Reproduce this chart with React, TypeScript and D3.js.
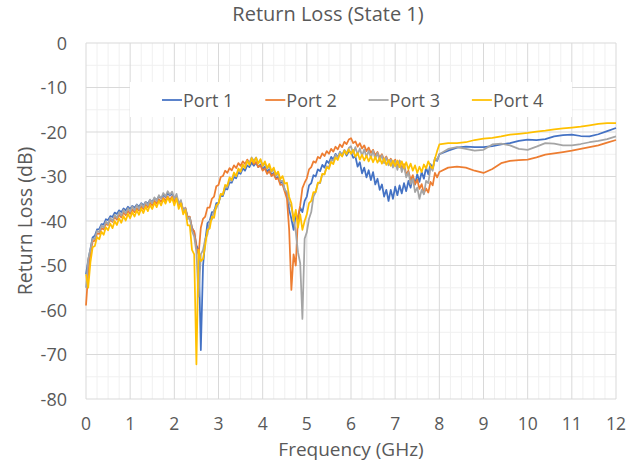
import React, { useEffect, useRef } from 'react';
import * as d3 from 'd3';

// sweep: 0–8 GHz every 0.05 GHz, then 8.2–12 GHz every 0.2 GHz
const FINE_STEP = 0.05;
const COARSE_START = 8.2;
const COARSE_STEP = 0.2;

const port1Fine = [
  -52, -48.8, -46.3, -43.7, -43.3, -41.9, -41.8, -40.7, -40.8, -39.6, -39.8, -38.9, -39.1, -38.1, -38.4, -37.6, -38, -37.2, -37.6, -36.8,
  -37.3, -36.6, -37, -36.3, -36.8, -36, -36.5, -35.7, -36.1, -35.3, -35.7, -34.9, -35.3, -34.5, -34.9, -34.2, -34.6, -33.8, -34.3, -33.9,
  -35, -34.6, -36, -35.8, -37.5, -37.2, -39, -39.2, -41.5, -42.5, -45.5, -46.5, -69, -50, -44.5, -40.5, -40, -38, -38, -36,
  -35.9, -34.3, -34.4, -32.8, -32.9, -31.3, -31.4, -30.1, -30.4, -29.1, -29.4, -28.2, -28.7, -27.5, -27.9, -26.9, -27.6, -26.9, -27.9, -27.3,
  -28.4, -27.8, -28.9, -28.4, -29.6, -29.2, -30.4, -30.1, -31.5, -31.2, -33, -34, -37.5, -39.5, -42, -38.5, -39.5, -37, -38, -35.5,
  -34.5, -32, -31.5, -29.7, -30, -28.4, -28.8, -27.4, -28, -26.5, -27, -25.6, -26.2, -24.9, -25.7, -24.5, -25.3, -24.2, -25.3, -24.4,
  -24.5, -25.8, -25.5, -27.8, -26.8, -29.3, -28, -30.2, -28.6, -30.8, -29, -31.8, -30.5, -33, -31.8, -34.5, -33, -35.5, -33, -35,
  -32.3, -34.2, -32, -33.8, -31.5, -33.3, -31, -32.5, -30, -31.8, -29.5, -31.2, -29, -30.5, -28, -29.5, -27.2, -28.2, -26, -26.5,
  -25,
];
const port1Coarse = [
  -24.2, -23.5, -23.3, -23.4, -23.4, -23.2, -22.8, -22.5, -22, -21.7,
  -21.8, -21.6, -21, -20.7, -20.6, -20.9, -21, -20.5, -19.8, -19.1,
];

const port2Fine = [
  -59, -51.7, -47.3, -44.6, -44.4, -42.8, -42.9, -41.6, -41.9, -40.6, -40.9, -39.7, -40.2, -39.1, -39.7, -38.6, -39.2, -38.1, -38.7, -37.7,
  -38.4, -37.4, -38, -37.1, -37.7, -36.7, -37.3, -36.3, -36.9, -35.9, -36.5, -35.5, -36.1, -35.1, -35.7, -34.8, -35.4, -34.5, -35.2, -34.5,
  -35.7, -34.6, -36.5, -35.6, -37.7, -37, -39.2, -39, -41.7, -42.3, -46, -47.5, -41.5, -39.5, -39, -37, -37, -35, -34.5, -32.2,
  -31.9, -30.1, -29.9, -28.7, -29.2, -28.1, -28.6, -27.5, -28.1, -27, -27.6, -26.6, -27.2, -26.2, -26.9, -26.2, -27.2, -26.7, -27.9, -27.5,
  -28.7, -28.2, -29.4, -28.8, -29.9, -29.4, -30.6, -30.4, -31.9, -31.8, -33.4, -35, -42, -55.5, -47.5, -50, -39, -36.5, -32.6, -31.4,
  -30.4, -28.4, -27.9, -26.6, -26.9, -25.6, -25.9, -24.8, -25.4, -24.3, -24.9, -23.8, -24.4, -23.3, -23.9, -22.8, -23.4, -22.2, -22.7, -21.7,
  -21.4, -22.5, -22.1, -23.3, -22.5, -23.7, -23, -24.3, -23.5, -24.7, -24, -25.3, -24.5, -25.8, -25, -26.3, -25.5, -26.8, -26, -27.2,
  -26.2, -27.8, -26.4, -28.3, -27.2, -29.6, -28.7, -30.8, -29.7, -31.8, -30.7, -32.8, -31.7, -33.8, -32.7, -33.6, -31.2, -32, -29.2, -30.2,
  -29,
];
const port2Coarse = [
  -28, -27.8, -28, -28.7, -29.2, -28.3, -27, -26.5, -26.3, -26.2,
  -25.7, -25.1, -24.8, -24.5, -24.2, -23.8, -23.4, -23, -22.4, -21.8,
];

const port3Fine = [
  -55, -48.6, -46.4, -44, -44, -42.2, -42.5, -41, -41.5, -40.1, -40.7, -39.3, -40, -38.6, -39.3, -38, -38.8, -37.5, -38.3, -37.1,
  -37.9, -36.7, -37.6, -36.4, -37.3, -36.1, -36.9, -35.7, -36.5, -35.2, -36, -34.7, -35.5, -34.2, -35, -33.7, -34.5, -33.3, -34.1, -33.4,
  -35, -33.9, -36.1, -35.3, -37.8, -37.1, -39.6, -39.2, -42.3, -43.5, -47, -57, -47.5, -46.5, -44, -43, -40, -39.7, -37.5, -37.2,
  -36, -34, -34, -32.2, -32.5, -30.7, -31, -29.5, -30, -28.5, -29, -27.5, -28, -26.5, -27, -25.7, -26.5, -25.7, -27, -26.3,
  -27.7, -27, -28.3, -27.7, -29, -28.4, -29.8, -29.4, -31, -31, -33, -33.5, -36, -36.8, -39.5, -42.5, -47, -49.5, -62, -44,
  -42.5, -39.5, -38, -34.5, -33.5, -31.5, -31.5, -29.5, -29.5, -27.7, -28, -26.2, -26.5, -25.1, -25.8, -24.5, -25.3, -24, -24.8, -23.6,
  -23.2, -24.9, -23.4, -25.1, -23.7, -25.4, -23.9, -25.6, -24.2, -25.8, -24.2, -26, -24.7, -26.5, -25.2, -27, -25.7, -27.5, -26.2, -28,
  -26.5, -28.5, -26.5, -29, -27.5, -30.2, -29, -31.7, -30.5, -33.5, -32.5, -35, -33, -34, -31, -31.5, -28, -28.7, -25.8, -26.3,
  -25,
];
const port3Coarse = [
  -23.8, -23.4, -23.8, -24.2, -24, -22.8, -22.6, -23, -23.8, -24,
  -23.3, -22.5, -22.6, -23, -23, -22.7, -22.3, -22, -21.6, -21,
];

const port4Fine = [
  -52, -55, -49.3, -45.9, -45.6, -43.6, -44.1, -42.4, -43.1, -41.4, -42.1, -40.6, -41.6, -40, -40.9, -39.4, -40.4, -38.9, -39.9, -38.4,
  -39.4, -38, -39, -37.6, -38.6, -37.2, -38.2, -36.8, -37.8, -36.4, -37.3, -35.9, -36.9, -35.5, -36.5, -35.1, -36.1, -34.7, -35.8, -34.8,
  -36.5, -34.9, -37.3, -36, -38.5, -37.5, -41, -41, -46.5, -47.5, -72.2, -46.5, -49, -48.5, -45.5, -42, -41.7, -39, -39.3, -36.5,
  -36.1, -33.9, -34.1, -31.9, -32.1, -30.2, -30.8, -29.1, -29.9, -28.2, -28.9, -27.3, -28.1, -26.5, -27.4, -25.9, -26.9, -25.8, -27.1, -26.1,
  -27.6, -26.6, -28.1, -27.2, -28.8, -28, -29.6, -28.9, -30.6, -29.9, -31.6, -31.4, -34.6, -36, -40, -37.5, -41.5, -38.5, -42, -40,
  -38.5, -36, -35.5, -33.5, -33.5, -31.4, -31.3, -29.4, -29.5, -27.9, -28.3, -26.7, -27.2, -25.7, -26.3, -24.9, -25.5, -24.2, -25, -23.9,
  -24.9, -24, -25.6, -24.7, -26.2, -25.1, -26.4, -25.3, -26.6, -25.5, -26.8, -25.6, -26.9, -25.8, -27.1, -26, -27.4, -26.3, -27.6, -26.4,
  -27.7, -26.4, -27.9, -26.6, -28.1, -26.8, -28.4, -27.1, -28.7, -27.5, -29.2, -27.8, -29, -27.3, -28.2, -26.6, -27.7, -28.2, -26, -24.3,
  -22.8,
];
const port4Coarse = [
  -22.5, -22.5, -22.3, -21.8, -21.5, -21.3, -21, -20.6, -20.4, -20.2,
  -19.9, -19.7, -19.4, -19.2, -19, -18.8, -18.5, -18.2, -18, -18,
];

const seriesNames = ['Port 1', 'Port 2', 'Port 3', 'Port 4'];
const seriesColors = ['#4472C4', '#ED7D31', '#A5A5A5', '#FFC000'];
const xTicks = [0, 1, 2, 3, 4, 5, 6, 7, 8, 9, 10, 11, 12];
const yTicks = [0, -10, -20, -30, -40, -50, -60, -70, -80];

const WIDTH = 639;
const HEIGHT = 465;
const FONT = "'Open Sans', 'DejaVu Sans', sans-serif";
const TEXT = '#595959';

function toPoints(fine: number[], coarse: number[]): [number, number][] {
  const a = fine.map((v, i) => [i * FINE_STEP, v] as [number, number]);
  const b = coarse.map((v, j) => [COARSE_START + j * COARSE_STEP, v] as [number, number]);
  return a.concat(b);
}

function ReturnLossChart() {
  const svgRef = useRef<SVGSVGElement>(null);

  useEffect(() => {
    const svg = d3.select(svgRef.current);
    svg.selectAll('*').remove();

    const m = { left: 86, right: 616, top: 43, bottom: 399 };
    const x = d3.scaleLinear().domain([0, 12]).range([m.left, m.right]);
    const y = d3.scaleLinear().domain([-80, 0]).range([m.bottom, m.top]);

    const series = [
      toPoints(port1Fine, port1Coarse),
      toPoints(port2Fine, port2Coarse),
      toPoints(port3Fine, port3Coarse),
      toPoints(port4Fine, port4Coarse),
    ];

    // minor grid
    const grid = svg.append('g');
    grid.selectAll('line.vminor')
      .data(d3.range(0, 48).map(i => i * 0.25).filter(v => v % 1 !== 0))
      .enter().append('line')
      .attr('x1', d => x(d)).attr('x2', d => x(d))
      .attr('y1', m.top).attr('y2', m.bottom)
      .attr('stroke', '#f0f0f0').attr('stroke-width', 1);
    grid.selectAll('line.hminor')
      .data(yTicks.slice(0, -1).map(v => v - 5))
      .enter().append('line')
      .attr('x1', m.left).attr('x2', m.right)
      .attr('y1', d => y(d)).attr('y2', d => y(d))
      .attr('stroke', '#f0f0f0').attr('stroke-width', 1);

    // major grid
    grid.selectAll('line.vmajor')
      .data(xTicks)
      .enter().append('line')
      .attr('x1', d => x(d)).attr('x2', d => x(d))
      .attr('y1', m.top).attr('y2', m.bottom)
      .attr('stroke', '#d9d9d9').attr('stroke-width', 1);
    grid.selectAll('line.hmajor')
      .data(yTicks)
      .enter().append('line')
      .attr('x1', m.left).attr('x2', m.right)
      .attr('y1', d => y(d)).attr('y2', d => y(d))
      .attr('stroke', '#d9d9d9').attr('stroke-width', 1);

    // legend box (sits over the grid)
    svg.append('rect')
      .attr('x', 130).attr('y', 82).attr('width', 442).attr('height', 35)
      .attr('fill', '#ffffff');

    // axis tick labels
    svg.append('g').selectAll('text')
      .data(xTicks)
      .enter().append('text')
      .attr('x', d => x(d)).attr('y', 430)
      .attr('text-anchor', 'middle')
      .attr('font-family', FONT).attr('font-size', 17.5).attr('fill', TEXT)
      .text(d => d);
    svg.append('g').selectAll('text')
      .data(yTicks)
      .enter().append('text')
      .attr('x', 67).attr('y', d => y(d) + 6.5)
      .attr('text-anchor', 'end')
      .attr('font-family', FONT).attr('font-size', 18).attr('fill', TEXT)
      .text(d => d);

    // lines
    const line = d3.line<[number, number]>()
      .x(d => x(d[0]))
      .y(d => y(d[1]));
    svg.append('g').selectAll('path')
      .data(series)
      .enter().append('path')
      .attr('d', d => line(d))
      .attr('fill', 'none')
      .attr('stroke', (d, i) => seriesColors[i])
      .attr('stroke-width', 1.75)
      .attr('stroke-linejoin', 'round');

    // legend entries
    const leg = svg.append('g').selectAll('g')
      .data(seriesNames)
      .enter().append('g')
      .attr('transform', (d, i) => `translate(${162 + i * 103.3}, 100)`);
    leg.append('line')
      .attr('x1', 0).attr('x2', 20).attr('y1', 0).attr('y2', 0)
      .attr('stroke', (d, i) => seriesColors[i]).attr('stroke-width', 1.75);
    leg.append('text')
      .attr('x', 21).attr('y', 6.5)
      .attr('font-family', FONT).attr('font-size', 18).attr('fill', TEXT)
      .text(d => d);

    // titles
    svg.append('text')
      .attr('x', 328).attr('y', 21)
      .attr('text-anchor', 'middle')
      .attr('font-family', FONT).attr('font-size', 20).attr('fill', TEXT)
      .text('Return Loss (State 1)');
    svg.append('text')
      .attr('x', (m.left + m.right) / 2).attr('y', 456)
      .attr('text-anchor', 'middle')
      .attr('font-family', FONT).attr('font-size', 19).attr('fill', TEXT)
      .text('Frequency (GHz)');
    svg.append('text')
      .attr('transform', `translate(32, ${(m.top + m.bottom) / 2}) rotate(-90)`)
      .attr('text-anchor', 'middle')
      .attr('font-family', FONT).attr('font-size', 19.5).attr('fill', TEXT)
      .text('Return Loss (dB)');
  }, []);

  return <svg ref={svgRef} width={WIDTH} height={HEIGHT}></svg>;
}

export default function App() {
  return (
    <div style={{ position: 'absolute', left: 0, top: 0, background: '#fff' }}>
      <ReturnLossChart />
    </div>
  );
}
